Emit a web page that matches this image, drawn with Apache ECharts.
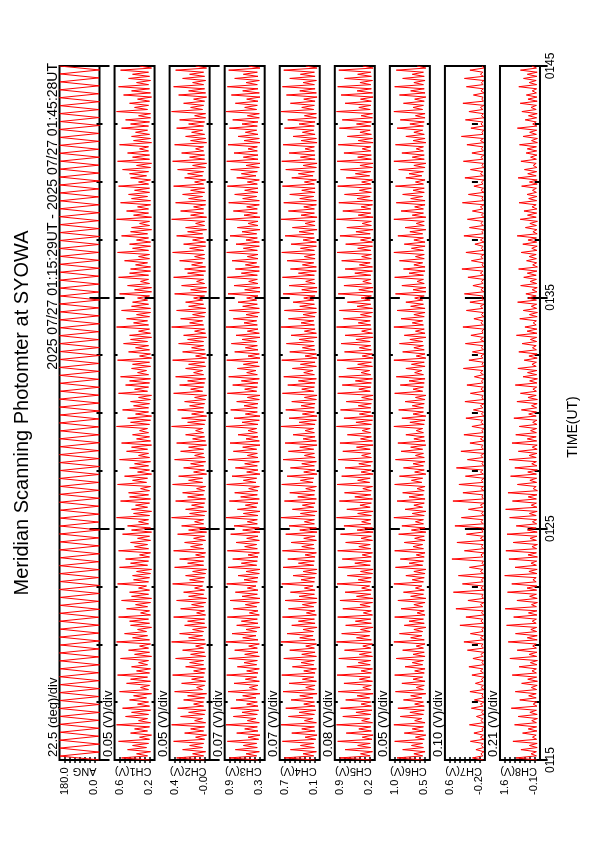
<!DOCTYPE html>
<html><head><meta charset="utf-8">
<script src="https://cdn.jsdelivr.net/npm/echarts@6/dist/echarts.min.js"></script>
<style>html,body{margin:0;padding:0;background:#fff}#c{width:595px;height:842px}</style>
</head><body><div id="c"></div>
<script>
// ---- data ----
const channelNames = ['ANG','CH1(V)','CH2(V)','CH3(V)','CH4(V)','CH5(V)','CH6(V)','CH7(V)','CH8(V)'];
const axisMin = [0.0, 0.2, 0.0, 0.3, 0.1, 0.2, 0.5, -0.2, -0.1];
const axisMax = [180.0, 0.6, 0.4, 0.9, 0.7, 0.9, 1.0, 0.6, 1.6];
const minLabels = ['0.0','0.2','-0.0','0.3','0.1','0.2','0.5','-0.2','-0.1'];
const maxLabels = ['180.0','0.6','0.4','0.9','0.7','0.9','1.0','0.6','1.6'];
const divLabels = ['22.5 (deg)/div','0.05 (V)/div','0.05 (V)/div','0.07 (V)/div','0.07 (V)/div','0.08 (V)/div','0.05 (V)/div','0.10 (V)/div','0.21 (V)/div'];
const timeLabels = ['0115','0125','0135','0145'];
const titleText = 'Meridian Scanning Photomter at SYOWA';
const periodText = '2025 07/27 01:15:29UT - 2025 07/27 01:45:28UT';
const timeAxisName = 'TIME(UT)';

const ang = [2,178,1,179,0,180,3,177,1,179,2,178,0,180,1,178,2,179,0,177,
1,180,3,178,0,179,2,180,1,177,0,179,2,178,1,180,3,179,0,178,
2,177,1,180,0,178,3,179,1,180,2,177,0,179,1,178,2,180,0,179,
3,178,1,177,2,180,0,179,1,178,3,180,2,177,0,179,1,180,2,178,
0,179,1,177,3,180,2,178,0,179,1,180,2,177,0,178,3,179,1,180,
2,178,0,177,1,179,3,180,2,178,0,179,1,177,2,180,0,178,3,179,
1,180,2,177,0,179,1,178,3,180,2,179,0,177,1,178,2,180,0,179,
1,178,3,177,2,180,0,179,1,178,2,177,0,180,3,179,1,178,2,180,
0,177,1,179,2,178,0,180,3,179,1,177,2,178,0,180];

const ch1 = [.25,.53,.27,.38,.24,.47,.28,.42,.26,.56,.25,.35,.23,.44,.27,.40,.25,.58,.24,.36,.27,.49,.26,.43,
.24,.52,.25,.37,.26,.45,.28,.41,.23,.55,.26,.34,.25,.48,.24,.44,.27,.57,.25,.38,.24,.43,.27,.36,
.26,.54,.23,.40,.25,.46,.26,.35,.24,.58,.25,.42,.27,.50,.28,.37,.23,.44,.25,.45,.26,.56,.24,.34,
.25,.48,.27,.39,.24,.53,.23,.43,.26,.45,.25,.36,.28,.57,.26,.41,.25,.42,.24,.38,.23,.55,.27,.44,
.26,.49,.25,.35,.24,.56,.26,.40,.27,.44,.24,.37,.25,.52,.23,.43,.24,.47,.26,.36,.26,.58,.25,.41,
.23,.43,.27,.39,.25,.54,.24,.45,.26,.46,.25,.34,.24,.57,.28,.42,.27,.50,.23,.37,.25,.45,.26,.40,
.24,.55,.25,.36,.26,.48,.27,.43,.23,.53,.24,.38,.25,.42,.26,.35,.27,.58,.25,.44,.24,.47,.23,.39,
.26,.52,.26,.41,.25,.44,.24,.36,.23,.56,.27,.40,.26,.49,.25,.45,.24,.54,.26,.37,.28,.43,.24,.42,
.25,.57,.23,.35,.24,.46,.25,.39,.26,.51,.27,.44,.23,.45,.24,.36,.25,.58,.26,.41,.27,.48,.25,.38,
.24,.53,.24,.43,.26,.42,.27,.37,.25,.55,.23,.40,.23,.47,.25,.34,.26,.56,.26,.45,.24,.44,.24,.39,
.27,.50,.25,.36,.25,.57,.26,.42,.24,.45,.24,.38,.26,.53,.27,.44,.23,.43,.25,.35,.25,.58,.23,.41,
.26,.48,.26,.37,.24,.54,.24,.43,.27,.46,.25,.40,.25,.56,.26,.36,.24,.44,.28,.45,.26,.52,.24,.38,
.23,.57,.25,.42,.25,.47,.26,.35,.26,.55,.23,.41,.24,.43,.25,.39,.27,.53,.26,.44,.25,.49,.24,.36,
.24,.58,.27,.40,.26,.45,.25,.37,.23,.51,.24,.43,.25,.56,.26,.38,.24,.46,.25,.42,.26,.54,.23,.35];

const ch2 = [.05,.33,.06,.17,.04,.27,.07,.20,.06,.36,.05,.14,.03,.25,.06,.19,.05,.38,.04,.15,.07,.29,.05,.21,
.04,.32,.06,.16,.06,.26,.05,.22,.03,.35,.07,.13,.05,.28,.04,.18,.06,.37,.05,.16,.04,.24,.06,.20,
.06,.34,.04,.19,.05,.27,.06,.14,.04,.38,.05,.21,.07,.30,.06,.17,.03,.25,.05,.22,.05,.36,.04,.13,
.05,.29,.06,.18,.04,.33,.03,.21,.06,.26,.05,.15,.07,.37,.06,.20,.05,.24,.04,.17,.03,.35,.06,.22,
.06,.30,.05,.14,.04,.36,.06,.19,.07,.25,.04,.16,.05,.32,.03,.21,.04,.28,.06,.15,.06,.38,.05,.20,
.03,.24,.06,.18,.05,.34,.04,.22,.06,.27,.05,.13,.04,.37,.07,.21,.07,.31,.03,.16,.05,.26,.06,.19,
.04,.35,.05,.15,.06,.29,.06,.21,.03,.33,.04,.17,.05,.24,.06,.14,.07,.38,.05,.22,.04,.28,.03,.18,
.06,.32,.06,.20,.05,.25,.04,.15,.03,.36,.07,.19,.06,.30,.05,.22,.04,.34,.06,.16,.07,.24,.04,.21,
.05,.37,.03,.14,.04,.27,.05,.18,.06,.31,.06,.22,.03,.26,.04,.15,.05,.38,.06,.20,.07,.29,.05,.17,
.04,.33,.04,.21,.06,.24,.07,.16,.05,.35,.03,.19,.03,.28,.05,.13,.06,.36,.06,.22,.04,.25,.04,.18,
.07,.30,.05,.15,.05,.37,.06,.20,.04,.26,.04,.17,.06,.33,.07,.22,.03,.24,.05,.14,.05,.38,.03,.19,
.06,.29,.06,.16,.04,.34,.04,.21,.07,.27,.05,.19,.05,.36,.06,.15,.04,.25,.07,.22,.06,.32,.04,.17,
.03,.37,.05,.20,.05,.28,.06,.14,.06,.35,.03,.19,.04,.24,.05,.18,.07,.33,.06,.21,.05,.30,.04,.15,
.04,.38,.07,.19,.06,.26,.05,.16,.03,.31,.04,.21,.05,.36,.06,.17,.04,.27,.05,.20,.06,.34,.03,.14];

const ch3 = [.40,.83,.42,.58,.38,.74,.41,.62,.42,.86,.39,.55,.37,.72,.40,.60,.41,.88,.38,.56,.43,.77,.41,.64,
.39,.81,.40,.57,.41,.73,.43,.63,.37,.85,.41,.53,.40,.76,.38,.59,.42,.87,.40,.57,.38,.71,.42,.61,
.41,.84,.38,.60,.40,.75,.41,.54,.38,.88,.40,.63,.43,.79,.42,.58,.37,.72,.40,.65,.41,.86,.38,.53,
.40,.77,.42,.59,.38,.82,.37,.64,.41,.74,.40,.56,.43,.87,.41,.61,.40,.70,.38,.58,.37,.85,.42,.65,
.41,.78,.40,.55,.38,.86,.41,.60,.42,.73,.38,.57,.40,.81,.37,.63,.38,.76,.41,.56,.41,.88,.40,.62,
.37,.71,.42,.59,.40,.83,.38,.66,.41,.75,.40,.54,.38,.87,.43,.62,.42,.79,.37,.57,.40,.74,.41,.60,
.38,.85,.40,.56,.41,.77,.42,.63,.37,.82,.38,.58,.40,.70,.41,.55,.42,.88,.40,.64,.38,.76,.37,.59,
.41,.81,.41,.61,.40,.72,.38,.56,.37,.86,.42,.60,.41,.78,.40,.65,.38,.84,.41,.57,.43,.71,.38,.62,
.40,.87,.37,.55,.38,.75,.40,.59,.41,.80,.42,.64,.37,.73,.38,.56,.40,.88,.41,.61,.42,.77,.40,.58,
.38,.83,.38,.63,.41,.70,.42,.57,.40,.85,.37,.60,.37,.76,.40,.54,.41,.86,.41,.65,.38,.74,.38,.59,
.42,.79,.40,.56,.40,.87,.41,.62,.38,.73,.38,.58,.41,.82,.42,.64,.37,.71,.40,.55,.40,.88,.37,.61,
.41,.77,.41,.57,.38,.84,.38,.63,.42,.75,.40,.60,.40,.86,.41,.56,.38,.72,.43,.65,.41,.81,.38,.58,
.37,.87,.40,.62,.40,.76,.41,.55,.41,.85,.37,.61,.38,.70,.40,.59,.42,.83,.41,.64,.40,.78,.38,.56,
.38,.88,.42,.60,.41,.74,.40,.57,.37,.80,.38,.63,.40,.86,.41,.58,.38,.75,.40,.62,.41,.84,.37,.54];

const ch4 = [.17,.63,.19,.35,.15,.54,.18,.39,.19,.66,.16,.32,.14,.52,.17,.37,.18,.68,.15,.33,.20,.57,.18,.41,
.16,.61,.17,.34,.18,.53,.20,.40,.14,.65,.18,.31,.17,.56,.15,.36,.19,.67,.17,.34,.15,.51,.19,.38,
.18,.64,.15,.37,.17,.55,.18,.31,.15,.68,.17,.40,.20,.59,.19,.35,.14,.52,.17,.42,.18,.66,.15,.30,
.17,.57,.19,.36,.15,.62,.14,.41,.18,.54,.17,.33,.20,.67,.18,.38,.17,.50,.15,.35,.14,.65,.19,.42,
.18,.58,.17,.32,.15,.66,.18,.37,.19,.53,.15,.34,.17,.61,.14,.40,.15,.56,.18,.33,.18,.68,.17,.39,
.14,.51,.19,.36,.17,.63,.15,.43,.18,.55,.17,.31,.15,.67,.20,.39,.19,.59,.14,.34,.17,.54,.18,.37,
.15,.65,.17,.33,.18,.57,.19,.40,.14,.62,.15,.35,.17,.50,.18,.32,.19,.68,.17,.41,.15,.56,.14,.36,
.18,.61,.18,.38,.17,.52,.15,.33,.14,.66,.19,.37,.18,.58,.17,.42,.15,.64,.18,.34,.20,.51,.15,.39,
.17,.67,.14,.32,.15,.55,.17,.36,.18,.60,.19,.41,.14,.53,.15,.33,.17,.68,.18,.38,.19,.57,.17,.35,
.15,.63,.15,.40,.18,.50,.19,.34,.17,.65,.14,.37,.14,.56,.17,.31,.18,.66,.18,.42,.15,.54,.15,.36,
.19,.59,.17,.33,.17,.67,.18,.39,.15,.53,.15,.35,.18,.62,.19,.41,.14,.51,.17,.32,.17,.68,.14,.38,
.18,.57,.18,.34,.15,.64,.15,.40,.19,.55,.17,.37,.17,.66,.18,.33,.15,.52,.20,.42,.18,.61,.15,.35,
.14,.67,.17,.39,.17,.56,.18,.32,.18,.65,.14,.38,.15,.50,.17,.36,.19,.63,.18,.41,.17,.58,.15,.33,
.15,.68,.19,.37,.18,.54,.17,.34,.14,.60,.15,.40,.17,.66,.18,.35,.15,.55,.17,.39,.18,.64,.14,.31];

const ch5 = [.26,.81,.28,.45,.24,.72,.27,.50,.28,.85,.25,.42,.23,.70,.26,.48,.27,.87,.24,.43,.29,.76,.27,.53,
.25,.80,.26,.44,.27,.71,.29,.51,.23,.84,.27,.41,.26,.74,.24,.47,.28,.86,.26,.44,.24,.69,.28,.49,
.27,.83,.24,.47,.26,.73,.27,.41,.24,.87,.26,.52,.29,.78,.28,.45,.23,.71,.26,.54,.27,.85,.24,.40,
.26,.76,.28,.46,.24,.81,.23,.52,.27,.72,.26,.43,.29,.86,.27,.49,.26,.68,.24,.45,.23,.84,.28,.55,
.27,.77,.26,.42,.24,.85,.27,.48,.28,.71,.24,.44,.26,.80,.23,.51,.24,.74,.27,.43,.27,.87,.26,.50,
.23,.69,.28,.46,.26,.82,.24,.55,.27,.73,.26,.41,.24,.86,.29,.50,.28,.78,.23,.44,.26,.72,.27,.48,
.24,.84,.26,.43,.27,.76,.28,.52,.23,.81,.24,.45,.26,.68,.27,.42,.28,.87,.26,.53,.24,.74,.23,.47,
.27,.80,.27,.49,.26,.70,.24,.43,.23,.85,.28,.48,.27,.77,.26,.54,.24,.83,.27,.44,.29,.69,.24,.50,
.26,.86,.23,.42,.24,.73,.26,.47,.27,.79,.28,.53,.23,.72,.24,.43,.26,.87,.27,.49,.28,.75,.26,.45,
.24,.82,.24,.51,.27,.68,.28,.44,.26,.84,.23,.48,.23,.74,.26,.41,.27,.85,.27,.55,.24,.72,.24,.47,
.28,.78,.26,.43,.26,.86,.27,.50,.24,.71,.24,.45,.27,.81,.28,.53,.23,.69,.26,.42,.26,.87,.23,.49,
.27,.76,.27,.44,.24,.83,.24,.51,.28,.73,.26,.47,.26,.85,.27,.43,.24,.70,.29,.54,.27,.80,.24,.46,
.23,.86,.26,.50,.26,.74,.27,.42,.27,.84,.23,.49,.24,.68,.26,.46,.28,.82,.27,.52,.26,.77,.24,.44,
.24,.87,.28,.48,.27,.72,.26,.45,.23,.79,.24,.51,.26,.85,.27,.46,.24,.73,.26,.50,.27,.83,.23,.41];

const ch6 = [.58,.91,.59,.70,.56,.84,.58,.73,.59,.94,.57,.68,.55,.82,.58,.72,.58,.95,.56,.69,.60,.87,.58,.75,
.57,.90,.57,.69,.58,.83,.60,.74,.55,.93,.58,.67,.57,.85,.56,.71,.59,.94,.57,.69,.56,.81,.59,.72,
.58,.92,.56,.71,.57,.84,.58,.67,.56,.95,.57,.74,.60,.88,.59,.70,.55,.82,.57,.76,.58,.94,.56,.66,
.57,.86,.59,.70,.56,.90,.55,.74,.58,.83,.57,.68,.60,.95,.58,.72,.57,.80,.56,.70,.55,.93,.59,.76,
.58,.87,.57,.67,.56,.94,.58,.71,.59,.82,.56,.69,.57,.89,.55,.73,.56,.85,.58,.68,.58,.95,.57,.72,
.55,.81,.59,.70,.57,.91,.56,.76,.58,.84,.57,.66,.56,.94,.60,.73,.59,.88,.55,.69,.57,.83,.58,.71,
.56,.93,.57,.68,.58,.86,.59,.74,.55,.90,.56,.70,.57,.80,.58,.67,.59,.95,.57,.75,.56,.85,.55,.71,
.58,.89,.58,.72,.57,.81,.56,.68,.55,.94,.59,.71,.58,.87,.57,.76,.56,.92,.58,.69,.60,.80,.56,.73,
.57,.95,.55,.67,.56,.84,.57,.70,.58,.88,.59,.75,.55,.82,.56,.68,.57,.95,.58,.72,.59,.86,.57,.70,
.56,.91,.56,.74,.58,.80,.59,.69,.57,.93,.55,.71,.55,.85,.57,.66,.58,.94,.58,.76,.56,.83,.56,.70,
.59,.88,.57,.68,.57,.95,.58,.73,.56,.82,.56,.70,.58,.90,.59,.75,.55,.81,.57,.67,.57,.95,.55,.72,
.58,.86,.58,.69,.56,.92,.56,.74,.59,.84,.57,.71,.57,.93,.58,.68,.56,.80,.60,.76,.58,.89,.56,.70,
.55,.95,.57,.72,.57,.85,.58,.67,.58,.93,.55,.71,.56,.80,.57,.70,.59,.91,.58,.75,.57,.87,.56,.68,
.56,.95,.59,.71,.58,.83,.57,.69,.55,.88,.56,.74,.57,.94,.58,.70,.56,.84,.57,.72,.58,.92,.55,.66];

const ch7 = [-.17,.05,-.16,-.12,-.18,-.02,-.17,-.13,-.16,.09,-.18,-.11,-.17,.02,-.16,-.14,-.18,.11,-.17,-.12,-.16,-.03,-.18,-.13,
-.17,.07,-.16,-.11,-.18,.01,-.17,-.14,-.16,.10,-.18,-.12,-.17,-.01,-.16,-.13,-.18,.06,-.17,-.11,-.16,.12,-.18,-.14,
-.17,.04,-.16,-.12,-.18,.15,-.17,-.13,-.16,.22,-.18,-.11,-.17,.09,-.16,-.14,-.18,.30,-.17,-.12,-.16,.18,-.18,-.13,
-.17,.38,-.16,-.11,-.18,.14,-.17,-.14,-.16,.43,-.18,-.12,-.17,.25,-.16,-.13,-.18,.33,-.17,-.11,-.16,.11,-.18,-.14,
-.17,.46,-.16,-.12,-.18,.21,-.17,-.13,-.16,.36,-.18,-.11,-.17,.17,-.16,-.14,-.18,.40,-.17,-.12,-.16,.27,-.18,-.13,
-.17,.13,-.16,-.11,-.18,.44,-.17,-.14,-.16,.24,-.18,-.12,-.17,.32,-.16,-.13,-.18,.19,-.17,-.11,-.16,.37,-.18,-.14,
-.17,.15,-.16,-.12,-.18,.28,-.17,-.13,-.16,.10,-.18,-.11,-.17,.22,-.16,-.14,-.18,.06,-.17,-.12,-.16,.18,-.18,-.13,
-.17,.03,-.16,-.11,-.18,.20,-.17,-.14,-.16,.09,-.18,-.12,-.17,.16,-.16,-.13,-.18,.01,-.17,-.11,-.16,.23,-.18,-.14,
-.17,.12,-.16,-.12,-.18,.05,-.17,-.13,-.16,.19,-.18,-.11,-.17,.08,-.16,-.14,-.18,.24,-.17,-.12,-.16,.02,-.18,-.13,
-.17,.17,-.16,-.11,-.18,.10,-.17,-.14,-.16,.21,-.18,-.12,-.17,.04,-.16,-.13,-.18,.14,-.17,-.11,-.16,.26,-.18,-.14,
-.17,.07,-.16,-.12,-.18,.18,-.17,-.13,-.16,.00,-.18,-.11,-.17,.22,-.16,-.14,-.18,.11,-.17,-.12,-.16,.15,-.18,-.13,
-.17,.05,-.16,-.11,-.18,.25,-.17,-.14,-.16,.13,-.18,-.12,-.17,.02,-.16,-.13,-.18,.20,-.17,-.11,-.16,.09,-.18,-.14,
-.17,.23,-.16,-.12,-.18,.06,-.17,-.13,-.16,.16,-.18,-.11,-.17,.27,-.16,-.14,-.18,.08,-.17,-.12,-.16,.19,-.18,-.13,
-.17,.12,-.16,-.11,-.18,.24,-.17,-.14,-.16,.03,-.18,-.12,-.17,.17,-.16,-.13,-.18,.21,-.17,-.11,-.16,.10,-.18,-.14];

const ch8 = [.03,.92,.05,.28,.05,.71,.02,.35,.02,1.05,.04,.22,.06,.64,.03,.40,.04,.98,.05,.25,.01,.83,.02,.33,
.05,1.12,.03,.19,.03,.76,.06,.38,.06,.95,.04,.27,.02,.68,.01,.42,.04,1.08,.05,.24,.05,.79,.03,.31,
.01,1.18,.04,.36,.03,.87,.05,.21,.06,1.25,.02,.44,.02,.94,.04,.29,.04,1.32,.06,.23,.05,1.02,.03,.39,
.03,1.38,.05,.26,.01,.88,.02,.34,.05,1.28,.04,.45,.03,1.10,.06,.20,.06,1.40,.03,.37,.02,.96,.05,.28,
.04,1.22,.01,.41,.05,1.35,.04,.24,.01,1.04,.05,.32,.03,1.30,.02,.43,.06,.91,.04,.22,.04,1.19,.06,.35,
.02,1.36,.03,.27,.05,1.07,.05,.40,.03,1.26,.01,.19,.06,.86,.04,.33,.04,1.15,.05,.42,.01,.97,.03,.25,
.05,1.21,.06,.36,.03,.82,.02,.23,.02,1.09,.04,.44,.06,.93,.05,.30,.04,.78,.03,.21,.03,1.01,.06,.38,
.05,.69,.04,.26,.02,.88,.01,.41,.06,.73,.05,.20,.04,.95,.03,.34,.01,.62,.04,.43,.03,.84,.06,.24,
.05,.57,.02,.37,.02,.80,.05,.22,.06,.66,.04,.31,.04,.90,.03,.45,.03,.54,.06,.19,.05,.76,.02,.35,
.01,.61,.04,.27,.04,.85,.05,.40,.06,.50,.03,.23,.02,.72,.04,.32,.05,.59,.06,.44,.03,.81,.01,.21,
.04,.47,.05,.36,.06,.70,.03,.25,.02,.63,.04,.41,.05,.87,.02,.20,.03,.52,.05,.33,.01,.74,.06,.43,
.04,.58,.03,.24,.06,.79,.04,.38,.03,.45,.05,.22,.05,.68,.02,.35,.02,.83,.06,.42,.04,.56,.03,.19,
.06,.71,.05,.30,.03,.49,.04,.44,.05,.77,.01,.26,.01,.62,.05,.34,.04,.86,.03,.21,.06,.53,.04,.39,
.02,.67,.06,.28,.05,.74,.02,.41,.03,.48,.05,.23,.04,.80,.04,.36,.06,.60,.03,.44,.02,.73,.05,.25];

const channelValues = [ang, ch1, ch2, ch3, ch4, ch5, ch6, ch7, ch8];
const spanSeconds = 1800; // 01:15 .. 01:45

// ---- layout ----
const LEFT0 = 59.5, STEP = 55.06, PW = 40, TOP = 66, PH = 694;
const FONT = 'Liberation Sans, Arial, Helvetica, sans-serif';

const grids = [], xAxes = [], yAxes = [], series = [], graphics = [];
channelValues.forEach((vals, i) => {
  const L = LEFT0 + STEP * i;
  grids.push({left: L, top: TOP, width: PW, height: PH, show: true, borderColor: '#000', borderWidth: 2, backgroundColor: 'rgba(0,0,0,0)'});
  const mn = axisMin[i], mx = axisMax[i];
  const ticks = [1,2,3,4,5,6,7].map(k => mn + (mx - mn) * k / 8);
  ['bottom','top'].forEach(pos => xAxes.push({
    type: 'value', gridIndex: i, position: pos, min: mn, max: mx, inverse: true,
    axisLine: {show: false}, axisLabel: {show: false}, splitLine: {show: false},
    axisTick: {show: true, inside: true, length: 3, customValues: ticks, lineStyle: {color: '#000', width: 1.5}}
  }));
  ['left','right'].forEach(pos => {
    const isLabel = (i === channelValues.length - 1 && pos === 'right');
    yAxes.push({
      type: 'value', gridIndex: i, position: pos, min: 0, max: spanSeconds, interval: 600,
      axisLine: {show: false}, splitLine: {show: false},
      axisTick: {show: true, inside: true, length: 10, lineStyle: {color: '#000', width: 2}},
      minorTick: {show: true, splitNumber: 4, length: 3, lineStyle: {color: '#000', width: 2}},
      axisLabel: {show: isLabel, rotate: 90, margin: 5, color: '#000', fontFamily: FONT, fontSize: 12,
        formatter: v => timeLabels[Math.round(v / 600)]}
    });
  });
  series.push({
    type: 'line', xAxisIndex: 2 * i, yAxisIndex: 2 * i, showSymbol: false, symbol: 'none',
    silent: true, animation: false, clip: true,
    lineStyle: {color: '#ff0000', width: 1},
    data: vals.map((v, k, a) => [v, k * spanSeconds / (a.length - 1)])
  });
  graphics.push({type: 'text', x: L - 6.5, y: 757, rotation: Math.PI / 2,
    style: {text: divLabels[i], font: '13px ' + FONT, fill: '#000', align: 'left', verticalAlign: 'middle'}});
  graphics.push({type: 'text', x: L + PW - 3, y: 771, rotation: Math.PI,
    style: {text: channelNames[i], font: '11px ' + FONT, fill: '#000', align: 'left', verticalAlign: 'middle'}});
  graphics.push({type: 'text', x: L + 5, y: 795, rotation: Math.PI / 2,
    style: {text: maxLabels[i], font: '11px ' + FONT, fill: '#000', align: 'left', verticalAlign: 'middle'}});
  graphics.push({type: 'text', x: L + PW - 6, y: 795, rotation: Math.PI / 2,
    style: {text: minLabels[i], font: '11px ' + FONT, fill: '#000', align: 'left', verticalAlign: 'middle'}});
});

graphics.push({type: 'text', x: 22.5, y: 413, rotation: Math.PI / 2,
  style: {text: titleText, font: '20px ' + FONT, fill: '#000', align: 'center', verticalAlign: 'middle'}});
graphics.push({type: 'text', x: 53, y: 63, rotation: Math.PI / 2,
  style: {text: periodText, font: '14px ' + FONT, fill: '#000', align: 'right', verticalAlign: 'middle'}});
graphics.push({type: 'text', x: 573, y: 427, rotation: Math.PI / 2,
  style: {text: timeAxisName, font: '14px ' + FONT, fill: '#000', align: 'center', verticalAlign: 'middle'}});

const chart = echarts.init(document.getElementById('c'), null, {renderer: 'canvas'});
chart.setOption({
  animation: false,
  backgroundColor: '#fff',
  grid: grids, xAxis: xAxes, yAxis: yAxes, series: series,
  graphic: graphics
});
</script></body></html>
